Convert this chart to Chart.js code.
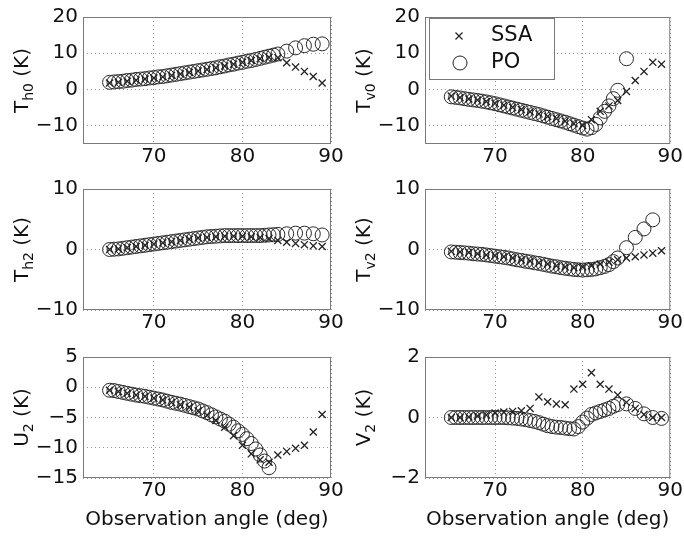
<!DOCTYPE html>
<html>
<head>
<meta charset="utf-8">
<script src="https://cdn.jsdelivr.net/npm/chart.js@4.4.0/dist/chart.umd.min.js"></script>
<style>
  body { margin: 0; background: #fff; }
  #wrap { position: relative; width: 684px; height: 537px; overflow: hidden; background: #fff; }
  #wrap canvas { position: absolute; }
</style>
</head>
<body>
<div id="wrap"></div>
<script>
// observation angles (deg): PO is sampled finer up to 84 deg
const poAngles = [65, 65.5, 66, 66.5, 67, 67.5, 68, 68.5, 69, 69.5, 70, 70.5, 71, 71.5, 72, 72.5, 73, 73.5, 74, 74.5,
                  75, 75.5, 76, 76.5, 77, 77.5, 78, 78.5, 79, 79.5, 80, 80.5, 81, 81.5, 82, 82.5, 83, 83.5, 84,
                  85, 86, 87, 88, 89];
const ssaAngles = [65, 66, 67, 68, 69, 70, 71, 72, 73, 74, 75, 76, 77, 78, 79, 80, 81, 82, 83, 84, 85, 86, 87, 88, 89];

const th0PO = [2.0, 2.1, 2.2, 2.3, 2.5, 2.6, 2.8, 2.9, 3.0, 3.2, 3.3, 3.5, 3.6, 3.8, 4.0, 4.2, 4.4, 4.6, 4.8, 5.0,
               5.2, 5.4, 5.6, 5.8, 6.0, 6.3, 6.5, 6.8, 7.0, 7.3, 7.5, 7.8, 8.0, 8.3, 8.6, 8.9, 9.2, 9.5, 9.8,
               10.6, 11.5, 12.1, 12.5, 12.6];
const th0SSA = [1.8, 2.0, 2.3, 2.6, 2.9, 3.2, 3.5, 3.9, 4.3, 4.7, 5.1, 5.5, 6.0, 6.5, 7.0, 7.5, 8.0, 8.5, 8.9, 8.8,
                7.4, 6.2, 5.0, 3.6, 1.8];

const tv0PO = [-2.0, -2.15, -2.3, -2.5, -2.7, -2.85, -3.0, -3.2, -3.4, -3.65, -3.9, -4.2, -4.5, -4.8, -5.1, -5.4, -5.7, -6.0, -6.3, -6.6,
               -6.9, -7.25, -7.6, -7.95, -8.3, -8.65, -9.0, -9.4, -9.8, -10.2, -10.6, -10.9, -10.5, -9.6, -7.8, -6.0, -4.5, -2.5, -0.2,
               8.5, null, null, null, null];
const tv0SSA = [-1.8, -2.2, -2.6, -2.9, -3.3, -3.8, -4.3, -4.9, -5.5, -6.1, -6.7, -7.4, -8.0, -8.7, -9.4, -9.9, -8.3, -6.0, -4.5, -3.0,
                -0.5, 2.5, 5.0, 7.5, 7.0];

const th2PO = [0.0, 0.05, 0.1, 0.2, 0.3, 0.4, 0.5, 0.6, 0.7, 0.8, 0.9, 1.0, 1.1, 1.2, 1.3, 1.4, 1.5, 1.6, 1.7, 1.8,
               1.9, 2.0, 2.1, 2.15, 2.2, 2.25, 2.3, 2.3, 2.3, 2.3, 2.3, 2.3, 2.3, 2.3, 2.3, 2.35, 2.4, 2.45, 2.5,
               2.6, 2.7, 2.7, 2.6, 2.4];
const th2SSA = [0.0, 0.1, 0.3, 0.5, 0.7, 0.9, 1.1, 1.3, 1.5, 1.7, 1.9, 2.0, 2.1, 2.2, 2.2, 2.2, 2.1, 2.0, 1.8, 1.5,
                1.2, 1.0, 0.8, 0.6, 0.5];

const tv2PO = [-0.4, -0.45, -0.5, -0.55, -0.6, -0.7, -0.75, -0.8, -0.9, -1.0, -1.1, -1.2, -1.3, -1.4, -1.55, -1.7, -1.8, -1.95, -2.05, -2.2,
               -2.3, -2.45, -2.6, -2.75, -2.85, -3.0, -3.1, -3.2, -3.3, -3.35, -3.4, -3.35, -3.3, -3.2, -3.0, -2.8, -2.5, -2.0, -1.4,
               0.3, 2.0, 3.4, 4.9, null];
const tv2SSA = [-0.3, -0.4, -0.5, -0.7, -0.9, -1.0, -1.2, -1.4, -1.7, -1.9, -2.2, -2.4, -2.7, -2.9, -3.0, -2.9, -2.7, -2.4, -2.1, -1.7,
                -1.4, -1.2, -0.9, -0.6, -0.2];

const u2PO = [-0.5, -0.55, -0.7, -0.85, -1.0, -1.15, -1.3, -1.4, -1.5, -1.65, -1.8, -1.95, -2.1, -2.3, -2.5, -2.65, -2.8, -3.0, -3.2, -3.4,
              -3.6, -3.9, -4.2, -4.55, -4.9, -5.25, -5.6, -6.1, -6.6, -7.2, -7.8, -8.5, -9.3, -10.2, -11.2, -12.2, -13.3, null, null,
              null, null, null, null, null];
const u2SSA = [-0.5, -0.7, -1.0, -1.3, -1.5, -1.8, -2.1, -2.5, -2.9, -3.3, -3.9, -4.6, -5.5, -6.6, -8.0, -9.6, -11.0, -12.0, -12.4, -11.2,
               -10.6, -10.1, -9.6, -7.4, -4.5];

const v2PO = [0.0, 0.0, 0.0, 0.0, 0.0, 0.0, 0.0, 0.0, 0.0, 0.0, 0.0, 0.0, 0.0, -0.01, -0.02, -0.03, -0.05, -0.07, -0.1, -0.13,
              -0.17, -0.22, -0.27, -0.3, -0.32, -0.33, -0.35, -0.37, -0.38, -0.3, -0.15, -0.02, 0.1, 0.15, 0.2, 0.25, 0.3, 0.37, 0.43,
              0.45, 0.3, 0.12, 0.0, -0.03];
const v2SSA = [0.0, 0.0, 0.02, 0.05, 0.08, 0.15, 0.18, 0.2, 0.22, 0.3, 0.68, 0.52, 0.45, 0.42, 0.94, 1.1, 1.48, 1.1, 0.94, 0.74,
               0.5, 0.3, 0.1, 0.0, 0.0];

const xTicks = [70, 80, 90];
const xTitle = 'Observation angle (deg)';
const seriesNames = ['SSA', 'PO'];

const FONT = 'DejaVu Sans';
const INK = '#111';

// layout of the 3x2 grid (page pixels)
const colPlotLeft = [83, 425];
const colCanvas = [[0, 360], [342, 342]];
const rowPlotTop = [16, 185, 354];
const rowPlotH = [128, 125, 124];
const rowCanvas = [[0, 172], [172, 168], [340, 197]];
const rowXH = [28, 28, 55];
const PLOT_W = 248;
const YW = 60;

const panels = [
    { id: 'th0', col: 0, row: 0, main: 'T', sub: 'h0', ssa: th0SSA, po: th0PO, yMin: -15, yMax: 20, yTicks: [-10, 0, 10, 20] },
    { id: 'tv0', col: 1, row: 0, main: 'T', sub: 'v0', ssa: tv0SSA, po: tv0PO, yMin: -15, yMax: 20, yTicks: [-10, 0, 10, 20], legend: true },
    { id: 'th2', col: 0, row: 1, main: 'T', sub: 'h2', ssa: th2SSA, po: th2PO, yMin: -10, yMax: 10, yTicks: [-10, 0, 10] },
    { id: 'tv2', col: 1, row: 1, main: 'T', sub: 'v2', ssa: tv2SSA, po: tv2PO, yMin: -10, yMax: 10, yTicks: [-10, 0, 10] },
    { id: 'u2', col: 0, row: 2, main: 'U', sub: '2', ssa: u2SSA, po: u2PO, yMin: -15, yMax: 5, yTicks: [-15, -10, -5, 0, 5] },
    { id: 'v2', col: 1, row: 2, main: 'V', sub: '2', ssa: v2SSA, po: v2PO, yMin: -2, yMax: 2, yTicks: [-2, 0, 2] }
];

// box round the plot area, y label with subscript, legend inside the box
const matlabLook = {
    id: 'matlabLook',
    afterDatasetsDraw(chart, args, opts) {
        const ctx = chart.ctx;
        const a = chart.chartArea;
        ctx.save();
        ctx.strokeStyle = '#7a7a7a';
        ctx.lineWidth = 1;
        ctx.strokeRect(a.left + 0.5, a.top + 0.5, a.right - a.left - 1, a.bottom - a.top - 1);

        if (opts.legend) {
            const bx = a.left + 4, by = a.top + 1;
            ctx.fillStyle = '#fff';
            ctx.fillRect(bx, by, 125, 61);
            ctx.strokeRect(bx + 0.5, by + 0.5, 125, 61);
            ctx.strokeStyle = '#222';
            ctx.lineWidth = 1.2;
            // cross marker
            const cx = bx + 30, cy = by + 18;
            ctx.beginPath();
            ctx.moveTo(cx - 3.5, cy - 3.5); ctx.lineTo(cx + 3.5, cy + 3.5);
            ctx.moveTo(cx + 3.5, cy - 3.5); ctx.lineTo(cx - 3.5, cy + 3.5);
            ctx.stroke();
            // circle marker
            ctx.lineWidth = 1;
            ctx.beginPath();
            ctx.arc(bx + 31, by + 45, 7, 0, Math.PI * 2);
            ctx.stroke();
            ctx.fillStyle = INK;
            ctx.font = '21px "' + FONT + '"';
            ctx.textBaseline = 'middle';
            ctx.textAlign = 'left';
            const names = chart.data.datasets.map(d => d.label);
            ctx.fillText(names[0], bx + 62, by + 18);
            ctx.fillText(names[1], bx + 62, by + 45);
        }

        // rotated y label: main letter, subscript, unit
        const mainFont = '20px "' + FONT + '"';
        const subFont = '14px "' + FONT + '"';
        const rest = ' (K)';
        ctx.font = mainFont;
        const wMain = ctx.measureText(opts.main).width;
        const wRest = ctx.measureText(rest).width;
        ctx.font = subFont;
        const wSub = ctx.measureText(opts.sub).width;
        const total = wMain + wSub + wRest;
        ctx.translate(a.left - 55, (a.top + a.bottom) / 2);
        ctx.rotate(-Math.PI / 2);
        ctx.fillStyle = INK;
        ctx.textAlign = 'left';
        ctx.textBaseline = 'alphabetic';
        let x0 = -total / 2;
        ctx.font = mainFont;
        ctx.fillText(opts.main, x0, 0);
        ctx.font = subFont;
        ctx.fillText(opts.sub, x0 + wMain, 5);
        ctx.font = mainFont;
        ctx.fillText(rest, x0 + wMain + wSub, 0);
        ctx.restore();
    }
};

function minusSign(v) {
    return String(v).replace('-', '\u2212');
}

function makePanel(p) {
    const wrap = document.getElementById('wrap');
    const canvas = document.createElement('canvas');
    const [cLeft, cW] = colCanvas[p.col];
    const [cTop, cH] = rowCanvas[p.row];
    canvas.width = cW;
    canvas.height = cH;
    canvas.style.left = cLeft + 'px';
    canvas.style.top = cTop + 'px';
    canvas.style.width = cW + 'px';
    canvas.style.height = cH + 'px';
    canvas.id = p.id;
    wrap.appendChild(canvas);

    const plotLeft = colPlotLeft[p.col];
    const plotTop = rowPlotTop[p.row];
    const plotH = rowPlotH[p.row];
    const XH = rowXH[p.row];
    const isBottom = p.row === 2;

    const padding = {
        left: plotLeft - cLeft - YW,
        right: cLeft + cW - plotLeft - PLOT_W,
        top: plotTop - cTop,
        bottom: cTop + cH - plotTop - plotH - XH
    };

    const gridOpts = { color: '#9a9a9a', lineWidth: 1, drawTicks: false };
    const borderOpts = { display: false, dash: [1, 3] };
    const tickFont = { family: FONT, size: 20 };

    return new Chart(canvas.getContext('2d'), {
        type: 'scatter',
        data: {
            datasets: [
                {
                    label: seriesNames[0],
                    data: ssaAngles.map((a, i) => ({ x: a, y: p.ssa[i] })),
                    pointStyle: 'crossRot', radius: 5, borderWidth: 1.3,
                    borderColor: '#222', backgroundColor: '#222', showLine: false
                },
                {
                    label: seriesNames[1],
                    data: poAngles.map((a, i) => ({ x: a, y: p.po[i] })),
                    pointStyle: 'circle', radius: 7, borderWidth: 1,
                    borderColor: '#2a2a2a', backgroundColor: 'rgba(0,0,0,0)', showLine: false
                }
            ]
        },
        options: {
            responsive: false,
            animation: false,
            devicePixelRatio: 1,
            layout: { padding: padding, autoPadding: false },
            plugins: {
                legend: { display: false },
                tooltip: { enabled: false },
                matlabLook: { main: p.main, sub: p.sub, legend: !!p.legend }
            },
            scales: {
                x: {
                    type: 'linear', min: 62, max: 90,
                    afterBuildTicks: s => { s.ticks = xTicks.map(v => ({ value: v })); },
                    afterFit: s => { s.height = XH; },
                    ticks: { font: tickFont, color: INK, padding: 1, maxRotation: 0, autoSkip: false, callback: minusSign },
                    grid: gridOpts,
                    border: borderOpts,
                    title: {
                        display: isBottom, text: xTitle, color: INK,
                        font: { family: FONT, size: 20 }, padding: { top: 0, bottom: 1 }
                    }
                },
                y: {
                    type: 'linear', min: p.yMin, max: p.yMax,
                    afterBuildTicks: s => { s.ticks = p.yTicks.map(v => ({ value: v })); },
                    afterFit: s => { s.width = YW; },
                    ticks: { font: tickFont, color: INK, padding: 5, autoSkip: false, callback: minusSign },
                    grid: gridOpts,
                    border: borderOpts
                }
            }
        },
        plugins: [matlabLook]
    });
}

panels.forEach(makePanel);
</script>
</body>
</html>
